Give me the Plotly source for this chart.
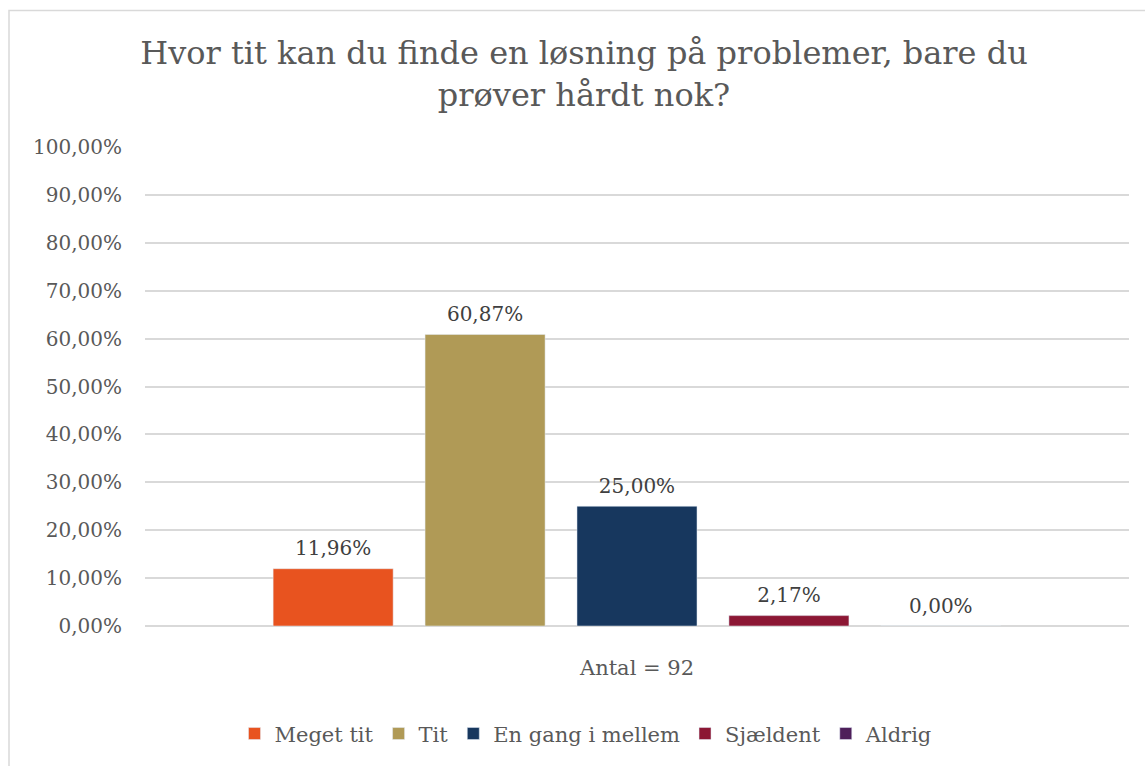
import plotly.graph_objects as go

category = ["Antal = 92"]
series_names = ["Meget tit", "Tit", "En gang i mellem", "Sjældent", "Aldrig"]
series_values = [11.96, 60.87, 25.00, 2.17, 0.00]
series_colors = ["#E8531F", "#B09A56", "#17375E", "#8C1734", "#4E1F5A"]
y_ticks = [0, 10, 20, 30, 40, 50, 60, 70, 80, 90, 100]
y_tick_labels = [f"{v:.2f}".replace(".", ",") + "%" for v in y_ticks]
title_text = "Hvor tit kan du finde en løsning på problemer, bare du<br>prøver hårdt nok?"

FONT = "DejaVu Serif"

fig = go.Figure()
for i, (name, val, col) in enumerate(zip(series_names, series_values, series_colors)):
    fig.add_trace(go.Bar(
        x=category, y=[val], name=name, marker_color=col,
        offsetgroup=str(i), alignmentgroup="a",
    ))
for i, (name, val) in enumerate(zip(series_names, series_values)):
    fig.add_trace(go.Scatter(
        x=category, y=[val], mode="markers+text", showlegend=False,
        offsetgroup=str(i), alignmentgroup="a",
        marker=dict(size=12, opacity=0),
        text=[f"{val:.2f}".replace(".", ",") + "%"], textposition="top center",
        textfont=dict(family=FONT, size=20, color="#404040"),
        cliponaxis=False, hoverinfo="skip",
    ))

W, H = 1145, 766
L, R, T, B = 145, 16, 147, 135
pw, ph = W - L - R, H - T - B

def px_x(x):
    return (x - L) / pw

def px_y(y):
    return (H - B - y) / ph

fig.update_layout(
    width=W, height=H,
    margin=dict(l=L, r=R, t=T, b=B),
    paper_bgcolor="white", plot_bgcolor="white",
    separators=",.",
    font=dict(family=FONT, color="#595959"),
    title=dict(text=title_text, x=584 / W, xanchor="center",
               y=1 - 64 / H, yanchor="middle",
               font=dict(family=FONT, size=32, color="#595959")),
    barmode="group", bargap=0.228, bargroupgap=0.21,
    scattermode="group", scattergap=0.228,
    showlegend=True,
    legend=dict(orientation="h", x=px_x(586), xanchor="center",
                y=px_y(740), yanchor="middle",
                font=dict(family=FONT, size=21, color="#595959"),
                itemwidth=30, traceorder="normal"),
    xaxis=dict(showgrid=False, showline=False, ticks="",
               tickfont=dict(family=FONT, size=21, color="#595959"),
               ticklabelstandoff=27),
    yaxis=dict(range=[0, 100], tickvals=y_ticks, ticktext=y_tick_labels,
               showgrid=True, gridcolor="#D9D9D9", gridwidth=1.5,
               zeroline=True, zerolinecolor="#D9D9D9", zerolinewidth=1.5,
               showline=False, ticks="",
               tickfont=dict(family=FONT, size=20, color="#595959"),
               ticklabelstandoff=22),
    shapes=[dict(type="rect", xref="paper", yref="paper",
                 x0=px_x(9), x1=px_x(1160), y0=px_y(780), y1=px_y(9),
                 line=dict(color="#D9D9D9", width=1.5), fillcolor="rgba(0,0,0,0)",
                 layer="below")],
)

fig.write_html("out.html", config={"displayModeBar": False},
               post_script="document.body.style.margin='0';")
